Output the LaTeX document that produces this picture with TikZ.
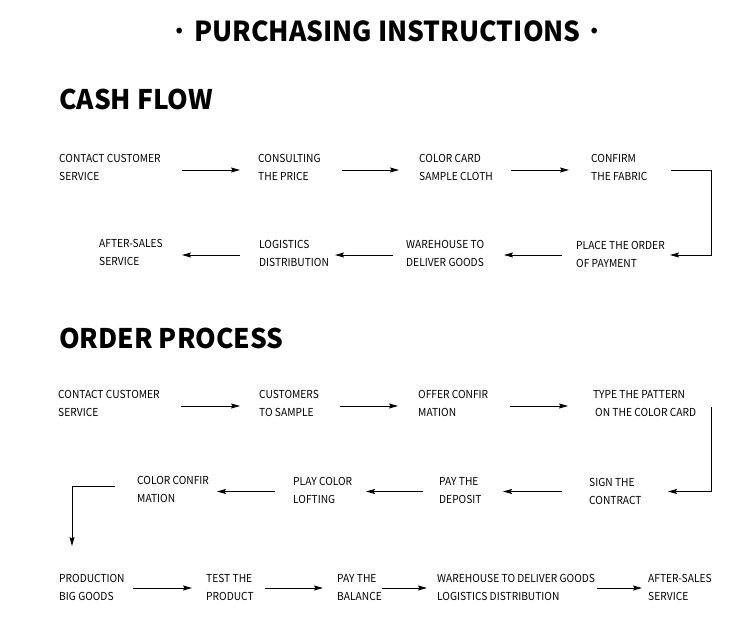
\documentclass[tikz,border=0pt]{standalone}
\usepackage{fontspec}
\setmainfont{Noto Sans CJK SC}
\newfontfamily\lblfont[FakeStretch=0.93]{Noto Sans CJK SC}
\newfontfamily\titlefont[FakeStretch=0.96]{Noto Sans CJK SC}
\newfontfamily\headfont[FakeStretch=0.975]{Noto Sans CJK SC}
\usetikzlibrary{arrows.meta}
\newcommand{\twol}[2]{\vtop{\baselineskip=18pt\hbox{#1}\hbox{#2}}}
\tikzset{
  lbl/.style={anchor=base west,inner sep=0pt,font=\lblfont\fontsize{11}{18}\selectfont},
  head/.style={anchor=base west,inner sep=0pt,font=\headfont\fontsize{27}{30}\selectfont\bfseries},
  arr/.style={line width=0.9pt,-{Stealth[length=9pt,width=5pt,inset=1.5pt]}},
}
\begin{document}
\begin{tikzpicture}[x=1pt,y=-1pt]
\path[use as bounding box,fill=white] (0,0) rectangle (750,644);
% title
\node[anchor=base,inner sep=0pt,font=\titlefont\fontsize{27.5}{30}\selectfont\bfseries] (title) at (387.5,42) {{\mdseries·}\hspace{1pt}PURCHASING INSTRUCTIONS\hspace{1pt}{\mdseries·}};
% headings
\node[head] (h1) at (59,110) {CASH FLOW};
\node[head] (h2) at (59,349) {ORDER PROCESS};
% cash flow
\node[lbl] (c1) at (59,163) {\twol{CONTACT CUSTOMER}{SERVICE}};
\node[lbl] (c2) at (258,163) {\twol{CONSULTING}{THE PRICE}};
\node[lbl] (c3) at (419,163) {\twol{COLOR CARD}{SAMPLE CLOTH}};
\node[lbl] (c4) at (591,163) {\twol{CONFIRM}{THE FABRIC}};
\node[lbl] (c5) at (576,250) {\twol{PLACE THE ORDER}{OF PAYMENT}};
\node[lbl] (c6) at (406,249) {\twol{WAREHOUSE TO}{DELIVER GOODS}};
\node[lbl] (c7) at (259,249) {\twol{LOGISTICS}{DISTRIBUTION}};
\node[lbl] (c8) at (99,248) {\twol{AFTER-SALES}{SERVICE}};
\draw[arr] ([shift={(123,7)}]c1.base west) -- ([shift={(-18,7)}]c2.base west);
\draw[arr] ([shift={(84,7)}]c2.base west) -- ([shift={(-20,7)}]c3.base west);
\draw[arr] ([shift={(92,7)}]c3.base west) -- ([shift={(-22,7)}]c4.base west);
\draw[arr] ([shift={(80,7)}]c4.base west) -| ([shift={(135,5)}]c5.base west) -- ([shift={(94,5)}]c5.base west);
\draw[arr] ([shift={(-14,5)}]c5.base west) -- ([shift={(98,6)}]c6.base west);
\draw[arr] ([shift={(-13,6)}]c6.base west) -- ([shift={(76,6)}]c7.base west);
\draw[arr] ([shift={(-19,6)}]c7.base west) -- ([shift={(83,7)}]c8.base west);
% order process
\node[lbl] (o1) at (58,399) {\twol{CONTACT CUSTOMER}{SERVICE}};
\node[lbl] (o2) at (259,399) {\twol{CUSTOMERS}{TO SAMPLE}};
\node[lbl] (o3) at (418,399) {\twol{OFFER CONFIR}{MATION}};
\node[lbl] (o4) at (593,399) {\twol{TYPE THE PATTERN}{\hspace{2pt}ON THE COLOR CARD}};
\node[lbl] (o5) at (589,486) {\twol{SIGN THE}{CONTRACT}};
\node[lbl] (o6) at (439,485) {\twol{PAY THE}{DEPOSIT}};
\node[lbl] (o7) at (293,485) {\twol{PLAY COLOR}{LOFTING}};
\node[lbl] (o8) at (137,484) {\twol{COLOR CONFIR}{MATION}};
\node[lbl] (o9) at (59,582) {\twol{PRODUCTION}{BIG GOODS}};
\node[lbl] (o10) at (206,582) {\twol{TEST THE}{PRODUCT}};
\node[lbl] (o11) at (337,582) {\twol{PAY THE}{BALANCE}};
\node[lbl] (o12) at (437,582) {\twol{WAREHOUSE TO DELIVER GOODS}{LOGISTICS DISTRIBUTION}};
\node[lbl] (o13) at (648,582) {\twol{AFTER-SALES}{SERVICE}};
\draw[arr] ([shift={(123,7)}]o1.base west) -- ([shift={(-19,7)}]o2.base west);
\draw[arr] ([shift={(81,7)}]o2.base west) -- ([shift={(-20,7)}]o3.base west);
\draw[arr] ([shift={(92,7)}]o3.base west) -- ([shift={(-25,7)}]o4.base west);
\draw[arr] ([shift={(118,8)}]o4.base west) |- ([shift={(79,5.5)}]o5.base west);
\draw[arr] ([shift={(-27,5.5)}]o5.base west) -- ([shift={(64,6.5)}]o6.base west);
\draw[arr] ([shift={(-16,6.5)}]o6.base west) -- ([shift={(73,6.5)}]o7.base west);
\draw[arr] ([shift={(-18,6.5)}]o7.base west) -- ([shift={(80,7.5)}]o8.base west);
\draw[arr] ([shift={(-22,2)}]o8.base west) -| ([shift={(13,-36)}]o9.base west);
\draw[arr] ([shift={(74,6)}]o9.base west) -- ([shift={(-14,6)}]o10.base west);
\draw[arr] ([shift={(59,6)}]o10.base west) -- ([shift={(-14,6)}]o11.base west);
\draw[arr] ([shift={(45,6)}]o11.base west) -- ([shift={(-10,6)}]o12.base west);
\draw[arr] ([shift={(160,6)}]o12.base west) -- ([shift={(-6,6)}]o13.base west);
\end{tikzpicture}
\end{document}
